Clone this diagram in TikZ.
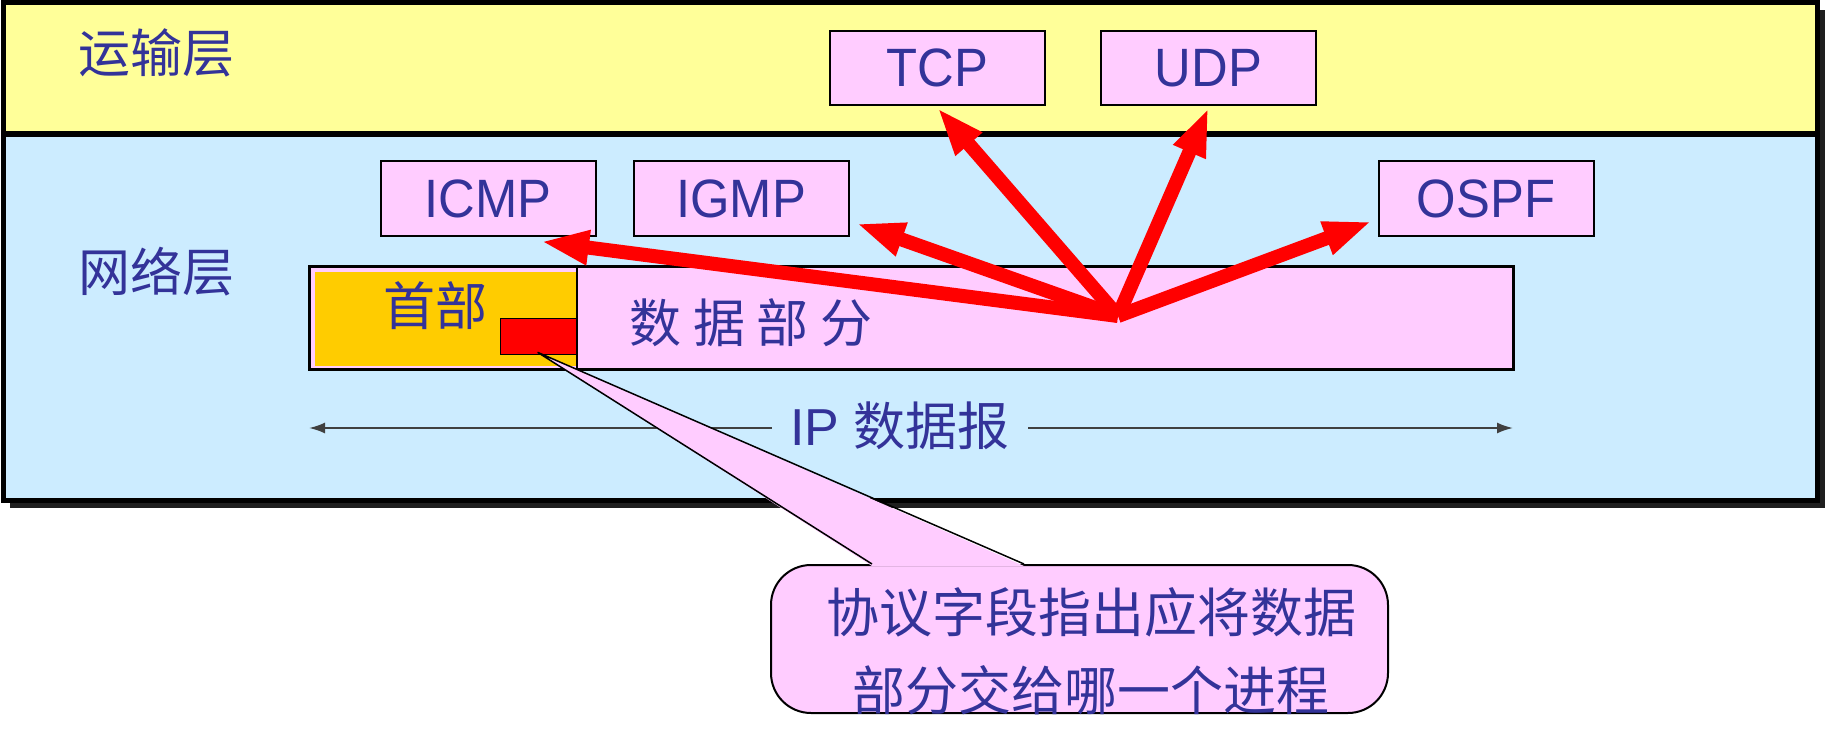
\documentclass[tikz,border=0pt]{standalone}
\usepackage{fontspec}
\setmainfont{Liberation Sans}
\newfontfamily\narrowsans{Liberation Sans}[FakeStretch=0.94]
\newfontfamily\cjk{Noto Sans CJK SC}
\usetikzlibrary{arrows.meta,positioning,calc}

\definecolor{layeryellow}{RGB}{255,255,153}
\definecolor{layerblue}{RGB}{204,236,255}
\definecolor{boxpink}{RGB}{255,204,255}
\definecolor{headgold}{RGB}{255,204,0}
\definecolor{textblue}{RGB}{51,51,153}

\tikzset{
  txt/.style={text=textblue,inner sep=0pt,font=\fontsize{26}{39}\selectfont},
  proto/.style={txt,draw,line width=1pt,fill=boxpink,
                font=\narrowsans\fontsize{27}{30}\selectfont,
                minimum width=107.5pt,minimum height=37pt},
  redarrow/.style={draw=red,line width=7pt,
                   -{Triangle[length=24pt,width=16pt]}},
  dimline/.style={draw=black!75,line width=1pt,
                  {Latex[length=8pt,width=5.5pt]}-{Latex[length=8pt,width=5.5pt]}}
}

\begin{document}
\begin{tikzpicture}[x=0.5pt,y=-0.5pt]
    \useasboundingbox (0,0) rectangle (1826,733);

    % layers
    \fill[black!88] (10,10) rectangle (1825,508);
    \fill[layeryellow] (3,3) rectangle (1817,134);
    \fill[layerblue] (3,134) rectangle (1817,500);
    \draw[line width=2.5pt] (3,3) rectangle (1817,500);
    \draw[line width=3pt] (3,134) -- (1817,134);

    \node[txt,anchor=west] (transport) at (78,53)  {\cjk 运输层};
    \node[txt,anchor=west] (network)   at (78,272) {\cjk 网络层};

    % protocols
    \node[proto] (tcp)  at (937.5,68)  {TCP};
    \node[proto] (udp)  [right=27pt of tcp] {\raisebox{-2pt}{UDP}};
    \node[proto] (icmp) at (488,198.5) {ICMP};
    \node[proto] (igmp) [right=18pt of icmp] {IGMP};
    \node[proto] (ospf) at (1486,198.5) {OSPF};

    % IP datagram
    \node[draw,line width=1.5pt,fill=boxpink,minimum width=602pt,
          minimum height=51.5pt] (datagram) at (911,317.5) {};
    \node[fill=headgold,inner sep=0pt,minimum width=131pt,minimum height=47pt,
          anchor=north west] (header) at ($(datagram.north west)+(7,7)$) {};
    \draw[line width=1pt] (header.east |- datagram.north) -- (header.east |- datagram.south);
    \node[draw,line width=0.75pt,fill=red,inner sep=0pt,minimum width=38pt,
          minimum height=18pt,anchor=south east] (field)
          at ($(header.south east)+(0,-11)$) {};
    \node[txt] (headlabel) at (435,306) {\cjk 首部};
    \node[txt,anchor=west] (datalabel) at (629,323) {\cjk 数\ 据\ 部\ 分};

    \coordinate (lenL) at (309,428);
    \coordinate (lenR) at (1513,428);
    \draw[dimline] (lenL) -- (lenR);
    \node[txt,fill=layerblue,inner xsep=9pt,inner ysep=2pt] (iplabel) at (900,426)
          {IP {\cjk 数据报}};

    % callout
    \node[draw,line width=1pt,fill=boxpink,rounded corners=20pt,
          minimum width=308.5pt,minimum height=74pt] (note) at (1079.5,639) {};
    \node[txt,align=center,font=\fontsize{26.5}{39}\selectfont] (notetext) at (1091,651)
          {\cjk 协议字段指出应将数据\\\cjk 部分交给哪一个进程};
    \coordinate (tip) at ($(field.south)+(-1,-3)$);
    \fill[boxpink] (tip) -- ($(note.north west)+(102,2)$) -- ($(note.north west)+(254,2)$) -- cycle;
    \draw[line width=0.75pt] ($(note.north west)+(102,0)$) -- (tip) -- ($(note.north west)+(254,0)$);

    % demultiplexing arrows
    \coordinate (src) at (1118,316);
    \path[redarrow] (src) -- ($(icmp.south)+(53,5)$);
    \path[redarrow] (src) -- ($(igmp.south east)+(7,-13)$);
    \path[redarrow] (src) -- ($(tcp.south)+(0,2)$);
    \path[redarrow] (src) -- ($(udp.south)+(0,2)$);
    \path[redarrow] (src) -- ($(ospf.south west)+(-6,-15)$);
\end{tikzpicture}
\end{document}
